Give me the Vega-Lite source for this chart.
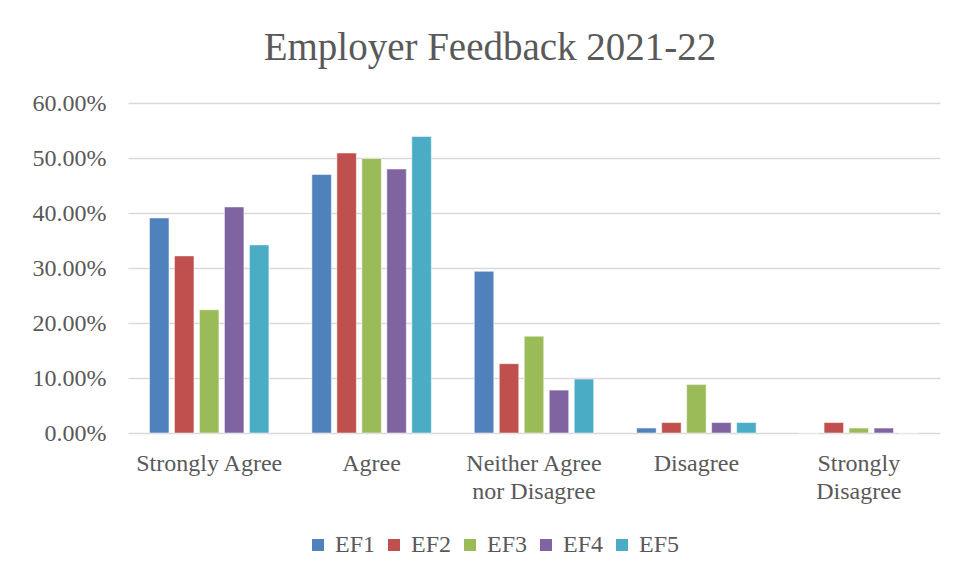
{
  "$schema": "https://vega.github.io/schema/vega-lite/v6.json",
  "autosize": "none",
  "width": 812,
  "height": 330,
  "padding": {"left": 128, "top": 103, "right": 18, "bottom": 145},
  "background": "white",
  "title": {
    "text": "Employer Feedback 2021-22",
    "font": "Liberation Serif",
    "fontSize": 39,
    "fontWeight": "normal",
    "color": "#595959",
    "anchor": "middle",
    "dx": -44,
    "offset": 23
  },
  "data": {
    "values": [
      {"category": "Strongly Agree", "series": "EF1", "value": 0.391},
      {"category": "Strongly Agree", "series": "EF2", "value": 0.322},
      {"category": "Strongly Agree", "series": "EF3", "value": 0.224},
      {"category": "Strongly Agree", "series": "EF4", "value": 0.411},
      {"category": "Strongly Agree", "series": "EF5", "value": 0.342},
      {"category": "Agree", "series": "EF1", "value": 0.470},
      {"category": "Agree", "series": "EF2", "value": 0.509},
      {"category": "Agree", "series": "EF3", "value": 0.499},
      {"category": "Agree", "series": "EF4", "value": 0.480},
      {"category": "Agree", "series": "EF5", "value": 0.539},
      {"category": "Neither Agree nor Disagree", "series": "EF1", "value": 0.294},
      {"category": "Neither Agree nor Disagree", "series": "EF2", "value": 0.126},
      {"category": "Neither Agree nor Disagree", "series": "EF3", "value": 0.176},
      {"category": "Neither Agree nor Disagree", "series": "EF4", "value": 0.078},
      {"category": "Neither Agree nor Disagree", "series": "EF5", "value": 0.098},
      {"category": "Disagree", "series": "EF1", "value": 0.009},
      {"category": "Disagree", "series": "EF2", "value": 0.019},
      {"category": "Disagree", "series": "EF3", "value": 0.088},
      {"category": "Disagree", "series": "EF4", "value": 0.019},
      {"category": "Disagree", "series": "EF5", "value": 0.019},
      {"category": "Strongly Disagree", "series": "EF1", "value": 0},
      {"category": "Strongly Disagree", "series": "EF2", "value": 0.019},
      {"category": "Strongly Disagree", "series": "EF3", "value": 0.009},
      {"category": "Strongly Disagree", "series": "EF4", "value": 0.009},
      {"category": "Strongly Disagree", "series": "EF5", "value": 0}
    ]
  },
  "mark": {"type": "bar", "stroke": "white", "strokeWidth": 0.5},
  "encoding": {
    "x": {
      "field": "category",
      "type": "nominal",
      "sort": ["Strongly Agree", "Agree", "Neither Agree nor Disagree", "Disagree", "Strongly Disagree"],
      "scale": {"paddingInner": 0, "paddingOuter": 0},
      "axis": {
        "title": null,
        "labelAngle": 0,
        "domain": false,
        "ticks": false,
        "grid": false,
        "labelFont": "Liberation Serif",
        "labelFontSize": 24,
        "labelColor": "#595959",
        "labelPadding": 18,
        "labelLineHeight": 28,
        "labelExpr": "datum.label == 'Neither Agree nor Disagree' ? ['Neither Agree', 'nor Disagree'] : datum.label == 'Strongly Disagree' ? ['Strongly', 'Disagree'] : datum.label"
      }
    },
    "xOffset": {
      "field": "series",
      "type": "nominal",
      "scale": {"paddingInner": 0.22, "paddingOuter": 0.86}
    },
    "y": {
      "field": "value",
      "type": "quantitative",
      "scale": {"domain": [0, 0.6], "nice": false},
      "axis": {
        "title": null,
        "format": ".2%",
        "values": [0, 0.1, 0.2, 0.3, 0.4, 0.5, 0.6],
        "domain": false,
        "ticks": false,
        "gridColor": "#d9d9d9",
        "gridWidth": 1.3,
        "labelFont": "Liberation Serif",
        "labelFontSize": 24,
        "labelColor": "#595959",
        "labelPadding": 22
      }
    },
    "color": {
      "field": "series",
      "type": "nominal",
      "scale": {
        "domain": ["EF1", "EF2", "EF3", "EF4", "EF5"],
        "range": ["#4F81BD", "#C0504D", "#9BBB59", "#8064A2", "#4BACC6"]
      },
      "legend": {
        "title": null,
        "orient": "none",
        "direction": "horizontal",
        "legendX": 178,
        "legendY": 430,
        "symbolType": "square",
        "symbolSize": 144,
        "symbolStrokeWidth": 0,
        "labelFont": "Liberation Serif",
        "labelFontSize": 24,
        "labelColor": "#595959",
        "labelOffset": 5,
        "columnPadding": 6
      }
    }
  },
  "config": {
    "view": {"stroke": null}
  }
}
